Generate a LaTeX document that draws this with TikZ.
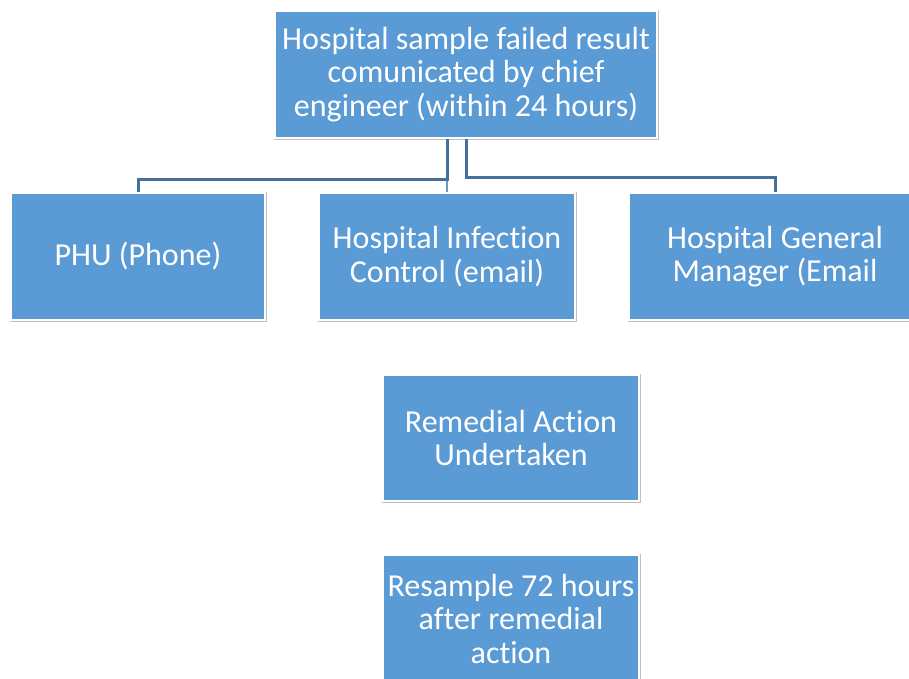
\documentclass[tikz,border=0pt]{standalone}
\usepackage{fontspec}
\setmainfont{Carlito}[Ligatures=NoCommon]
\usepackage{tikz}
\usetikzlibrary{positioning}
\definecolor{boxColor}{HTML}{5B9BD5}
\definecolor{boxEdge}{RGB}{191,191,191}
\definecolor{linkColor}{RGB}{68,112,158}
\definecolor{linkLight}{RGB}{112,152,196}
\tikzstyle{chart} = [x = 1pt, y = -1pt]
\tikzstyle{boxStyle} = [fill=boxColor, draw=white, line width=2pt, preaction={draw=boxEdge, line width=3pt},
  text=white, align=center, font=\fontsize{32}{33.5}\selectfont, inner sep=0pt]
\tikzstyle{linkStyle} = [color=linkColor, line width=3pt]
\tikzstyle{linkThin} = [color=linkLight, line width=2pt]
\newcommand{\chartBox}[6]{\node [boxStyle, minimum width=#4pt, minimum height=#5pt] (#1) at (#2,#3) {#6};}

\begin{document}
\begin{tikzpicture}[chart]
  \clip (0,0) rectangle (909,678);
  \fill [white] (0,0) rectangle (909,678);

  % boxes
  \chartBox{top}{466}{74.5}{382}{127}{Hospital sample failed result\\comunicated by chief\\engineer (within 24 hours)}
  \chartBox{phu}{138}{256.5}{254}{127}{PHU (Phone)}
  \chartBox{infection}{447}{256.5}{256}{127}{Hospital Infection\\Control (email)}
  \chartBox{manager}{775}{256.5}{292}{127}{Hospital General\\Manager (Email}
  \chartBox{remedial}{511}{438}{256}{126}{Remedial Action\\Undertaken}
  \chartBox{resample}{511}{618.5}{256}{127}{Resample 72 hours\\after remedial\\action}

  % connectors
  \draw [linkThin] (top.south -| infection.north) -- (infection.north);
  \draw [linkStyle] (top.south -| infection.north) -- ++(0,40) -| (phu.north);
  \draw [linkStyle] (top.south) -- ++(0,38) -| (manager.north);
\end{tikzpicture}
\end{document}
